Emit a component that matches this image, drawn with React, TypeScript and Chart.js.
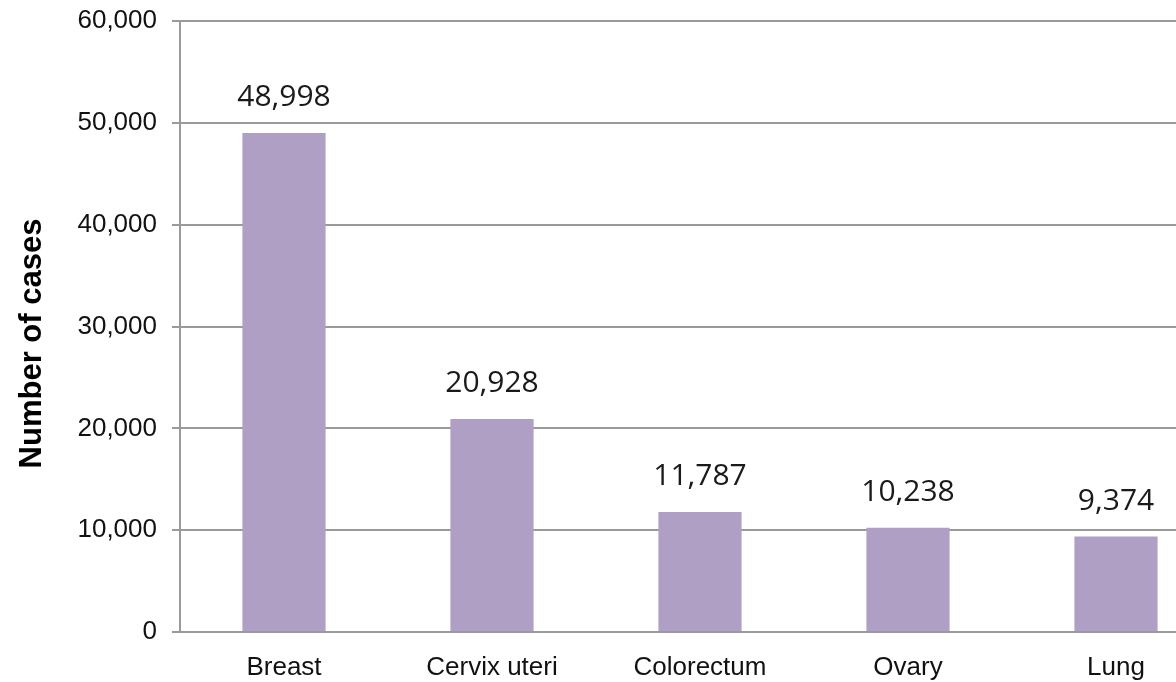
import React, { useEffect, useRef } from "react";
import { Chart, registerables } from "chart.js";

Chart.register(...registerables);

const categories = ["Breast", "Cervix uteri", "Colorectum", "Ovary", "Lung"];
const cases = [48998, 20928, 11787, 10238, 9374];
const yTicks = [0, 10000, 20000, 30000, 40000, 50000, 60000];
const yTitle = "Number of cases";

const fmt = (v: number) => v.toLocaleString("en-US");

const labelPlugin = {
  id: "barLabels",
  afterDatasetsDraw(chart: any) {
    const { ctx, chartArea } = chart;
    const meta = chart.getDatasetMeta(0);
    ctx.save();
    ctx.fillStyle = "#1a1a1a";
    ctx.font = "30px 'Open Sans'";
    ctx.textAlign = "center";
    ctx.textBaseline = "alphabetic";
    meta.data.forEach((bar: any, i: number) => {
      ctx.fillText(fmt(cases[i]), bar.x, bar.y - 27);
    });
    // rotated axis title
    ctx.translate(32, (chartArea.top + chartArea.bottom) / 2 + 17);
    ctx.rotate(-Math.PI / 2);
    ctx.font = "bold 31px 'Liberation Sans'";
    ctx.textBaseline = "middle";
    ctx.fillStyle = "#000";
    ctx.fillText(yTitle, 0, 0);
    ctx.restore();
  },
};

export default function App() {
  const ref = useRef<HTMLCanvasElement>(null);

  useEffect(() => {
    if (!ref.current) return;
    const chart = new Chart(ref.current, {
      type: "bar",
      data: {
        labels: categories,
        datasets: [
          {
            data: cases,
            backgroundColor: "#b09fc4",
            barPercentage: 0.4,
            categoryPercentage: 1,
          },
        ],
      },
      options: {
        responsive: false,
        animation: false,
        layout: { padding: { top: 21, right: 0, left: 0, bottom: 0 } },
        plugins: { legend: { display: false }, tooltip: { enabled: false } },
        scales: {
          x: {
            grid: { display: false, drawTicks: false },
            border: { display: true, color: "#9a9a9a", width: 2 },
            ticks: {
              color: "#111",
              font: { family: "'Liberation Sans'", size: 26 },
              padding: 20,
              maxRotation: 0,
            },
            afterFit: (s: any) => {
              s.height = 50;
              s.paddingLeft = 0;
              s.paddingRight = 0;
            },
          },
          y: {
            min: 0,
            max: 60000,
            afterBuildTicks: (s: any) => {
              s.ticks = yTicks.map((v) => ({ value: v }));
            },
            grid: { color: "#9a9a9a", lineWidth: 2, tickLength: 8, drawTicks: true },
            border: { display: true, color: "#9a9a9a", width: 2 },
            ticks: {
              color: "#111",
              font: { family: "'Liberation Sans'", size: 26 },
              padding: 15,
              callback: (v: any) => fmt(Number(v)),
            },
            afterFit: (s: any) => {
              s.width = 180;
              s.paddingTop = 0;
              s.paddingBottom = 0;
            },
          },
        },
      },
      plugins: [labelPlugin],
    });
    return () => chart.destroy();
  }, []);

  return (
    <div
      style={{
        position: "fixed",
        left: 0,
        top: 0,
        width: 1176,
        height: 682,
        overflow: "hidden",
        background: "#fff",
      }}
    >
      <canvas ref={ref} width={1220} height={682} style={{ display: "block" }} />
    </div>
  );
}
